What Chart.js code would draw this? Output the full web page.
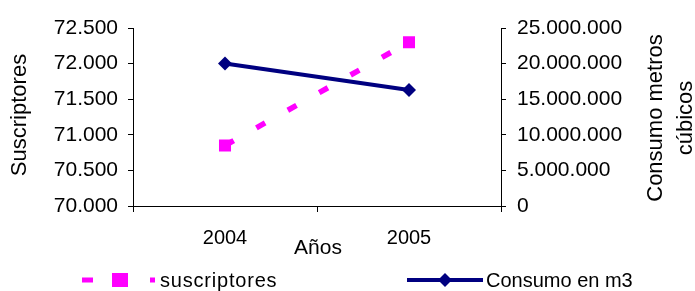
<!DOCTYPE html>
<html>
<head>
<meta charset="utf-8">
<script src="https://cdn.jsdelivr.net/npm/chart.js@4"></script>
<style>
  html, body { margin: 0; padding: 0; background: #fff; }
  #wrap { width: 695px; height: 291px; position: relative; }
</style>
</head>
<body>
<div id="wrap"><canvas id="myChart"></canvas></div>
<script>
// data
const years = ['2004', '2005'];
const suscriptores = [70850, 72300];
const consumo = [20000000, 16300000];
const leftTicks = [70000, 70500, 71000, 71500, 72000, 72500];
const rightTicks = [0, 5000000, 10000000, 15000000, 20000000, 25000000];

const FONT = 'Liberation Sans, Arial, sans-serif';
const magenta = '#FF00FF';
const navy = '#000080';

// 72500 -> "72.500"
function fmt(v) {
  return String(Math.round(v)).replace(/\B(?=(\d{3})+(?!\d))/g, '.');
}

// axis titles + legend, drawn by hand so they sit where the original has them
const extras = {
  id: 'extras',
  afterDraw(chart) {
    const ctx = chart.ctx;
    ctx.save();
    ctx.fillStyle = '#000';
    ctx.font = '22px ' + FONT;
    ctx.textAlign = 'center';
    ctx.textBaseline = 'middle';

    // left title
    ctx.save();
    ctx.translate(20, 115);
    ctx.rotate(-Math.PI / 2);
    ctx.fillText('Suscriptores', 0, 0);
    ctx.restore();

    // right title, two lines
    ctx.save();
    ctx.textBaseline = 'alphabetic';
    ctx.translate(662, 118);
    ctx.rotate(-Math.PI / 2);
    ctx.fillText('Consumo metros', 0, 0);
    ctx.fillText('cúbicos', 0, 30);
    ctx.restore();

    // x title
    ctx.font = '21px ' + FONT;
    ctx.fillText('Años', 318, 248);

    // legend
    ctx.font = '20px ' + FONT;
    const ly = 280;
    ctx.textAlign = 'left';
    // suscriptores
    ctx.strokeStyle = magenta;
    ctx.lineWidth = 5;
    ctx.setLineDash([11, 23]);
    ctx.beginPath();
    ctx.moveTo(82, ly);
    ctx.lineTo(155, ly);
    ctx.stroke();
    ctx.setLineDash([]);
    ctx.fillStyle = magenta;
    ctx.fillRect(112, ly - 7, 16, 14);
    ctx.fillStyle = '#000';
    ctx.letterSpacing = '0.8px';
    ctx.fillText('suscriptores', 160, ly + 1);
    ctx.letterSpacing = '0px';

    // consumo
    ctx.strokeStyle = navy;
    ctx.lineWidth = 4;
    ctx.beginPath();
    ctx.moveTo(407, ly);
    ctx.lineTo(483, ly);
    ctx.stroke();
    ctx.fillStyle = navy;
    ctx.beginPath();
    ctx.moveTo(445, ly - 7);
    ctx.lineTo(452, ly);
    ctx.lineTo(445, ly + 7);
    ctx.lineTo(438, ly);
    ctx.closePath();
    ctx.fill();
    ctx.fillStyle = '#000';
    ctx.fillText('Consumo en m3', 486, ly + 1);

    ctx.restore();
  }
};

const ctx = document.getElementById('myChart').getContext('2d');
const myChart = new Chart(ctx, {
  type: 'line',
  data: {
    labels: years,
    datasets: [{
      label: 'suscriptores',
      data: suscriptores,
      yAxisID: 'y',
      borderColor: magenta,
      backgroundColor: magenta,
      borderWidth: 5.5,
      borderDash: [10, 26],
      pointStyle: 'rect',
      pointRadius: 8.5,
      pointHoverRadius: 8.5,
      pointBorderWidth: 0,
      tension: 0,
      order: 2
    },
    {
      label: 'Consumo en m3',
      data: consumo,
      yAxisID: 'y1',
      borderColor: navy,
      backgroundColor: navy,
      borderWidth: 4,
      pointStyle: 'rectRot',
      pointRadius: 7,
      pointHoverRadius: 7,
      pointBorderWidth: 0,
      tension: 0,
      order: 1
    }]
  },
  options: {
    responsive: true,
    maintainAspectRatio: false,
    animation: false,
    layout: { padding: { top: 28, left: 0, right: 0, bottom: 0 } },
    plugins: {
      legend: { display: false },
      tooltip: { enabled: false }
    },
    scales: {
      x: {
        offset: true,
        grid: {
          offset: true,
          drawOnChartArea: false,
          drawTicks: true,
          tickLength: 6,
          color: '#000'
        },
        border: { color: '#000', width: 1 },
        ticks: {
          color: '#000',
          font: { family: FONT, size: 20 },
          padding: 14,
          maxRotation: 0
        },
        afterFit(scale) { scale.height = 85; }
      },
      y: {
        position: 'left',
        min: 70000,
        max: 72500,
        afterBuildTicks(scale) { scale.ticks = leftTicks.map(v => ({ value: v })); },
        grid: {
          drawOnChartArea: false,
          drawTicks: true,
          tickLength: 5,
          color: '#000'
        },
        border: { color: '#000', width: 1 },
        ticks: {
          color: '#000',
          font: { family: FONT, size: 21 },
          padding: 10,
          callback: v => fmt(v)
        },
        afterFit(scale) { scale.width = 133; }
      },
      y1: {
        position: 'right',
        min: 0,
        max: 25000000,
        afterBuildTicks(scale) { scale.ticks = rightTicks.map(v => ({ value: v })); },
        grid: {
          drawOnChartArea: false,
          drawTicks: true,
          tickLength: 5,
          color: '#000'
        },
        border: { color: '#000', width: 1 },
        ticks: {
          color: '#000',
          font: { family: FONT, size: 21 },
          padding: 11,
          callback: v => fmt(v)
        },
        afterFit(scale) { scale.width = 194; }
      }
    }
  },
  plugins: [extras]
});
</script>
</body>
</html>
